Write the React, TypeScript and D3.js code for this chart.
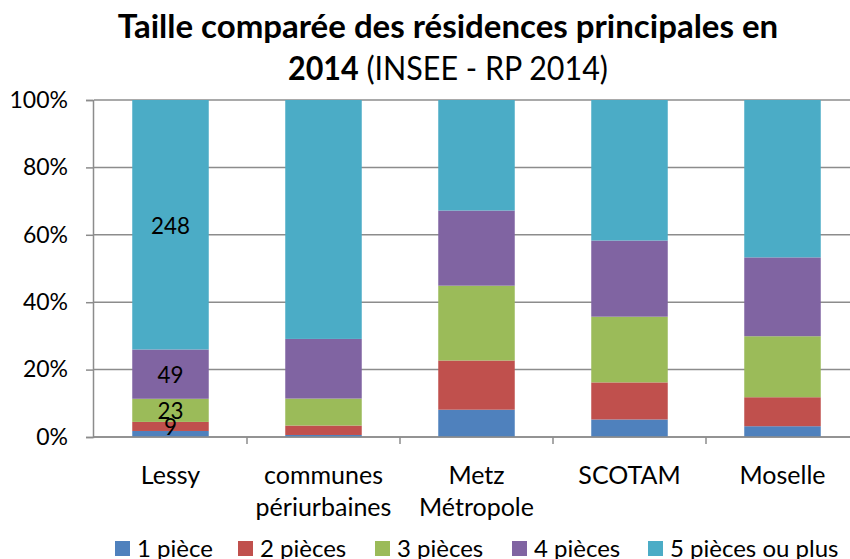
import React, { useEffect, useRef } from 'react';
import * as d3 from 'd3';

// Données (Lessy en effectifs, les autres en %)
const categories = ['Lessy', 'communes\npériurbaines', 'Metz\nMétropole', 'SCOTAM', 'Moselle'];
const series = ['1 pièce', '2 pièces', '3 pièces', '4 pièces', '5 pièces ou plus'];
const colors = ['#4f81bd', '#c0504d', '#9bbb59', '#8064a2', '#4bacc6'];

const piece1 = [6, 0.6, 8.1, 5.2, 3.2];
const piece2 = [9, 2.8, 14.6, 11.0, 8.6];
const piece3 = [23, 8.0, 22.2, 19.5, 18.1];
const piece4 = [49, 17.7, 22.3, 22.6, 23.4];
const piece5 = [248, 70.9, 32.8, 41.7, 46.7];

// étiquettes affichées (seulement sur Lessy)
const lessyLabels = [null, '9', '23', '49', '248'];

const yTicks = [0, 0.2, 0.4, 0.6, 0.8, 1];

const W = 850;
const H = 559;
const FONT = 'Lato, "Open Sans", sans-serif';

export default function App() {
  const ref = useRef<SVGSVGElement>(null);

  useEffect(() => {
    const svg = d3.select(ref.current);
    svg.selectAll('*').remove();

    const left = 94;
    const right = 859;
    const top = 100;
    const bottom = 437;

    const rows = categories.map((c, i) => ({
      cat: c,
      '1 pièce': piece1[i],
      '2 pièces': piece2[i],
      '3 pièces': piece3[i],
      '4 pièces': piece4[i],
      '5 pièces ou plus': piece5[i],
    }));

    const stacked = d3.stack<any>().keys(series).offset(d3.stackOffsetExpand)(rows);

    const x = d3.scaleBand().domain(categories).range([left, right]).paddingInner(0.5).paddingOuter(0.25);
    const xb = d3.scaleBand().domain(categories).range([left, right]);
    const y = d3.scaleLinear().domain([0, 1]).range([bottom, top]);

    // titre
    svg.append('text').attr('x', 448).attr('y', 38)
      .attr('text-anchor', 'middle').style('font-family', FONT).style('font-size', '33px')
      .style('font-weight', 'bold').text('Taille comparée des résidences principales en');
    const t2 = svg.append('text').attr('x', 448).attr('y', 80)
      .attr('text-anchor', 'middle').style('font-family', FONT).style('font-size', '33px')
      .attr('textLength', 320).attr('lengthAdjust', 'spacingAndGlyphs');
    t2.append('tspan').style('font-weight', 'bold').text('2014');
    t2.append('tspan').text(' (INSEE - RP 2014)');

    // gridlines
    svg.append('g').selectAll('line').data(yTicks).join('line')
      .attr('x1', left).attr('x2', W).attr('y1', d => y(d)).attr('y2', d => y(d))
      .attr('stroke', '#8c8c8c').attr('stroke-width', 1.5);

    // y axis
    const yAxis = svg.append('g').attr('transform', `translate(${left - 1},0)`)
      .call(d3.axisLeft(y).tickValues(yTicks).tickFormat(d3.format('.0%')).tickSize(7).tickPadding(18));
    yAxis.select('.domain').attr('stroke', '#8c8c8c').attr('stroke-width', 1.5);
    yAxis.selectAll('.tick line').attr('stroke', '#8c8c8c').attr('stroke-width', 1.5);
    yAxis.selectAll('.tick text').style('font-family', FONT).style('font-size', '23px').attr('fill', '#000');

    // bars
    svg.append('g').selectAll('g').data(stacked).join('g')
      .attr('fill', (d, i) => colors[i])
      .selectAll('rect').data(d => d).join('rect')
      .attr('x', d => x(d.data.cat)!)
      .attr('width', x.bandwidth())
      .attr('y', d => y(d[1]))
      .attr('height', d => y(d[0]) - y(d[1]));

    // data labels on Lessy
    svg.append('g').selectAll('text').data(stacked.filter((s, i) => lessyLabels[i])).join('text')
      .attr('x', x(categories[0])! + x.bandwidth() / 2)
      .attr('y', d => y((d[0][0] + d[0][1]) / 2) + 9)
      .attr('text-anchor', 'middle')
      .attr('textLength', d => lessyLabels[d.index]!.length * 13)
      .attr('lengthAdjust', 'spacingAndGlyphs')
      .style('font-family', FONT).style('font-size', '24px')
      .text(d => lessyLabels[d.index]!);

    // x axis
    svg.append('line').attr('x1', left - 1).attr('x2', W).attr('y1', bottom).attr('y2', bottom)
      .attr('stroke', '#8c8c8c').attr('stroke-width', 1.5);
    svg.append('g').selectAll('line').data(categories.slice(1)).join('line')
      .attr('x1', d => xb(d)!).attr('x2', d => xb(d)!)
      .attr('y1', bottom).attr('y2', bottom + 7)
      .attr('stroke', '#8c8c8c').attr('stroke-width', 1.5);

    const catText = svg.append('g').selectAll('text').data(categories).join('text')
      .attr('x', d => xb(d)! + xb.bandwidth() / 2)
      .attr('y', 484)
      .attr('text-anchor', 'middle')
      .style('font-family', FONT).style('font-size', '25px');
    catText.selectAll('tspan').data(d => d.split('\n')).join('tspan')
      .attr('x', function () { return (this.parentNode as any).getAttribute('x'); })
      .attr('dy', (d, i) => (i === 0 ? 0 : 32))
      .text(d => d);

    // legend
    const legendX = [115, 238, 375, 512, 648];
    const lg = svg.append('g').selectAll('g').data(series).join('g')
      .attr('transform', (d, i) => `translate(${legendX[i]},541)`);
    lg.append('rect').attr('width', 15).attr('height', 15).attr('fill', (d, i) => colors[i]);
    lg.append('text').attr('x', 22).attr('y', 16)
      .style('font-family', FONT).style('font-size', '24px').text(d => d);
  }, []);

  return (
    <svg ref={ref} width={W} height={H}
      style={{ display: 'block', position: 'absolute', left: 0, top: 0, background: '#fff' }} />
  );
}
